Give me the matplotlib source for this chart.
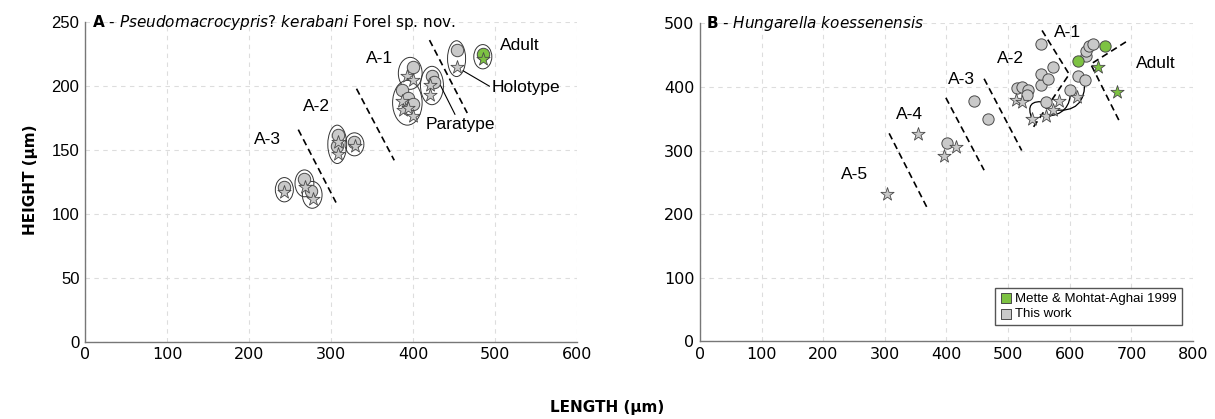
import numpy as np
import matplotlib.pyplot as plt
from matplotlib.patches import Ellipse

# ---- panel A : Pseudomacrocypris? kerabani ----
a_circ_x = [243, 267, 276, 308, 307, 328, 400, 423, 426, 386, 394, 400, 453]
a_circ_y = [121, 127, 118, 162, 153, 156, 215, 208, 203, 197, 191, 186, 228]
a_circ_grp = [0, 1, 2, 3, 3, 4, 5, 6, 6, 7, 7, 7, 8]
a_star_x = [243, 268, 278, 308, 308, 329, 393, 400, 420, 420, 386, 388, 394, 400, 453]
a_star_y = [117, 121, 112, 156, 147, 153, 208, 205, 201, 193, 188, 181, 183, 177, 215]
a_star_grp = [0, 1, 2, 3, 3, 4, 5, 5, 6, 6, 7, 7, 7, 7, 8]
a_adult_x = [485]
a_adult_circ_y = [225]
a_adult_star_y = [221]

a_stage_labels = ["A-3", "A-2", "A-1", "Adult"]
a_stage_x = [222, 282, 359, 530]
a_stage_y = [158, 184, 222, 232]
a_bounds = [((260, 166), (306, 109)), ((331, 198), (377, 142)), ((420, 236), (466, 179))]

# ---- panel B : Hungarella koessenensis ----
b_circ_x = [401, 444, 468, 514, 523, 532, 531, 553, 553, 565, 573, 554, 561, 601, 613, 624, 626, 627, 631, 638]
b_circ_y = [312, 378, 350, 398, 400, 395, 387, 403, 421, 412, 432, 468, 376, 396, 417, 411, 449, 457, 464, 468]
b_star_x = [303, 354, 396, 415, 512, 523, 539, 561, 572, 583, 612]
b_star_y = [232, 326, 292, 305, 379, 376, 349, 354, 364, 378, 385]
b_green_circ_x = [613, 657]
b_green_circ_y = [441, 464]
b_green_star_x = [646, 676]
b_green_star_y = [432, 392]

b_stage_labels = ["A-5", "A-4", "A-3", "A-2", "A-1", "Adult"]
b_stage_x = [251, 340, 424, 503, 597, 740]
b_stage_y = [262, 357, 412, 445, 485, 437]
b_bounds = [[(307, 327), (368, 211)],
            [(399, 383), (461, 269)],
            [(461, 413), (522, 300)],
            [(555, 489), (599, 420), (539, 334)],
            [(691, 471), (634, 436), (682, 343)]]
# star -> circle links (same specimen)
b_links = [((539, 349), (561, 376), -0.9), ((561, 354), (601, 396), 0.5), ((572, 364), (624, 411), 0.6)]

GRAY = "#c9c9c9"
GREEN = "#7dc242"
EDGE = "#4a4a4a"

plt.rcParams['font.family'] = 'DejaVu Sans'
fig = plt.figure(figsize=(12.15, 4.19), dpi=100)
axA = fig.add_axes([0.070, 0.184, 0.405, 0.763])
axB = fig.add_axes([0.576, 0.186, 0.406, 0.758])


def style(ax, xmax, ymax, xstep, ystep):
    ax.set_xlim(0, xmax)
    ax.set_ylim(0, ymax)
    ax.set_xticks(np.arange(0, xmax + 1, xstep))
    ax.set_yticks(np.arange(0, ymax + 1, ystep))
    for s in ["top", "right"]:
        ax.spines[s].set_visible(False)
    for s in ["left", "bottom"]:
        ax.spines[s].set_color("#777777")
        ax.spines[s].set_linewidth(1.0)
    ax.tick_params(length=0, labelsize=11.5, pad=4)
    ax.grid(True, color="#dddddd", linestyle=(0, (4, 4)), linewidth=0.8)
    ax.set_axisbelow(True)


style(axA, 600, 250, 100, 50)
style(axB, 800, 500, 100, 100)
for lab in axA.get_yticklabels():
    lab.set_fontfamily("Liberation Sans")
    lab.set_fontsize(12)

# panel A ellipses around each specimen group
all_x = np.array(a_circ_x + a_star_x + a_adult_x + a_adult_x, float)
all_y = np.array(a_circ_y + a_star_y + a_adult_circ_y + a_adult_star_y, float)
all_g = np.array(a_circ_grp + a_star_grp + [9, 9])
for g in np.unique(all_g):
    xs, ys = all_x[all_g == g], all_y[all_g == g]
    cx, cy = (xs.min() + xs.max()) / 2, (ys.min() + ys.max()) / 2
    w = xs.max() - xs.min() + 22
    h = ys.max() - ys.min() + 15
    axA.add_patch(Ellipse((cx, cy), w, h, facecolor="none", edgecolor="#333333", lw=0.7, zorder=2))

axA.scatter(a_circ_x, a_circ_y, s=80, c=GRAY, edgecolors=EDGE, linewidths=0.7, zorder=3)
axA.scatter(a_star_x, a_star_y, s=100, marker="*", c=GRAY, edgecolors=EDGE, linewidths=0.6, zorder=4)
axA.scatter(a_adult_x, a_adult_circ_y, s=80, c=GREEN, edgecolors=EDGE, linewidths=0.7, zorder=3)
axA.scatter(a_adult_x, a_adult_star_y, s=100, marker="*", c=GREEN, edgecolors=EDGE, linewidths=0.6, zorder=4)

for (p, q) in a_bounds:
    axA.plot([p[0], q[0]], [p[1], q[1]], color="black", lw=1.2, ls=(0, (4, 2.5)), zorder=2)
for lab, x, y in zip(a_stage_labels, a_stage_x, a_stage_y):
    axA.text(x, y, lab, fontsize=12.5, family="Liberation Sans", ha="center", va="center")
axA.plot([461, 493], [212, 200], color="black", lw=0.8, zorder=2)
axA.text(537, 199, "Holotype", fontsize=12.5, family="Liberation Sans", ha="center", va="center")
axA.plot([433, 451], [201, 178], color="black", lw=0.8, zorder=2)
axA.text(458, 170, "Paratype", fontsize=12.5, family="Liberation Sans", ha="center", va="center")

axA.text(0.015, 1.0, r"$\bf{A}$ - $\it{Pseudomacrocypris}$? $\it{kerabani}$ Forel sp. nov.",
         transform=axA.transAxes, fontsize=11, va="center", ha="left")

# panel B
for pts in b_bounds:
    xs, ys = zip(*pts)
    axB.plot(xs, ys, color="black", lw=1.2, ls=(0, (4, 2.5)), zorder=2)
for p, q, r in b_links:
    axB.annotate("", xy=q, xytext=p,
                 arrowprops=dict(arrowstyle="-", color="black", lw=0.9,
                                 connectionstyle="arc3,rad=%s" % r, shrinkA=0, shrinkB=0), zorder=2)
axB.scatter(b_circ_x, b_circ_y, s=66, c=GRAY, edgecolors=EDGE, linewidths=0.7, zorder=3)
axB.scatter(b_star_x, b_star_y, s=100, marker="*", c=GRAY, edgecolors=EDGE, linewidths=0.6, zorder=4)
axB.scatter(b_green_circ_x, b_green_circ_y, s=66, c=GREEN, edgecolors=EDGE, linewidths=0.7, zorder=3)
axB.scatter(b_green_star_x, b_green_star_y, s=100, marker="*", c=GREEN, edgecolors=EDGE, linewidths=0.6, zorder=4)
for lab, x, y in zip(b_stage_labels, b_stage_x, b_stage_y):
    axB.text(x, y, lab, fontsize=12.5, family="Liberation Sans", ha="center", va="center")

axB.text(0.012, 1.0, r"$\bf{B}$ - $\it{Hungarella}$ $\it{koessenensis}$",
         transform=axB.transAxes, fontsize=11, va="center", ha="left")

h1 = axB.scatter([], [], marker="s", s=55, c=GREEN, edgecolors=EDGE, linewidths=0.7)
h2 = axB.scatter([], [], marker="s", s=55, c=GRAY, edgecolors=EDGE, linewidths=0.7)
axB.legend([h1, h2], ["Mette & Mohtat-Aghai 1999", "This work"], loc="lower right",
           bbox_to_anchor=(0.99, 0.03), prop={"family": "Liberation Sans", "size": 9.5},
           fancybox=False, edgecolor="#555555", framealpha=1, handletextpad=0.2,
           handlelength=1.0, borderpad=0.35, labelspacing=0.25)

fig.text(0.025, 0.57, "HEIGHT (µm)", rotation=90, fontsize=11, fontweight="bold", ha="center", va="center")
fig.text(0.5, 0.027, "LENGTH (µm)", fontsize=11, fontweight="bold", ha="center", va="center")

fig.savefig("out.png", dpi=100)
